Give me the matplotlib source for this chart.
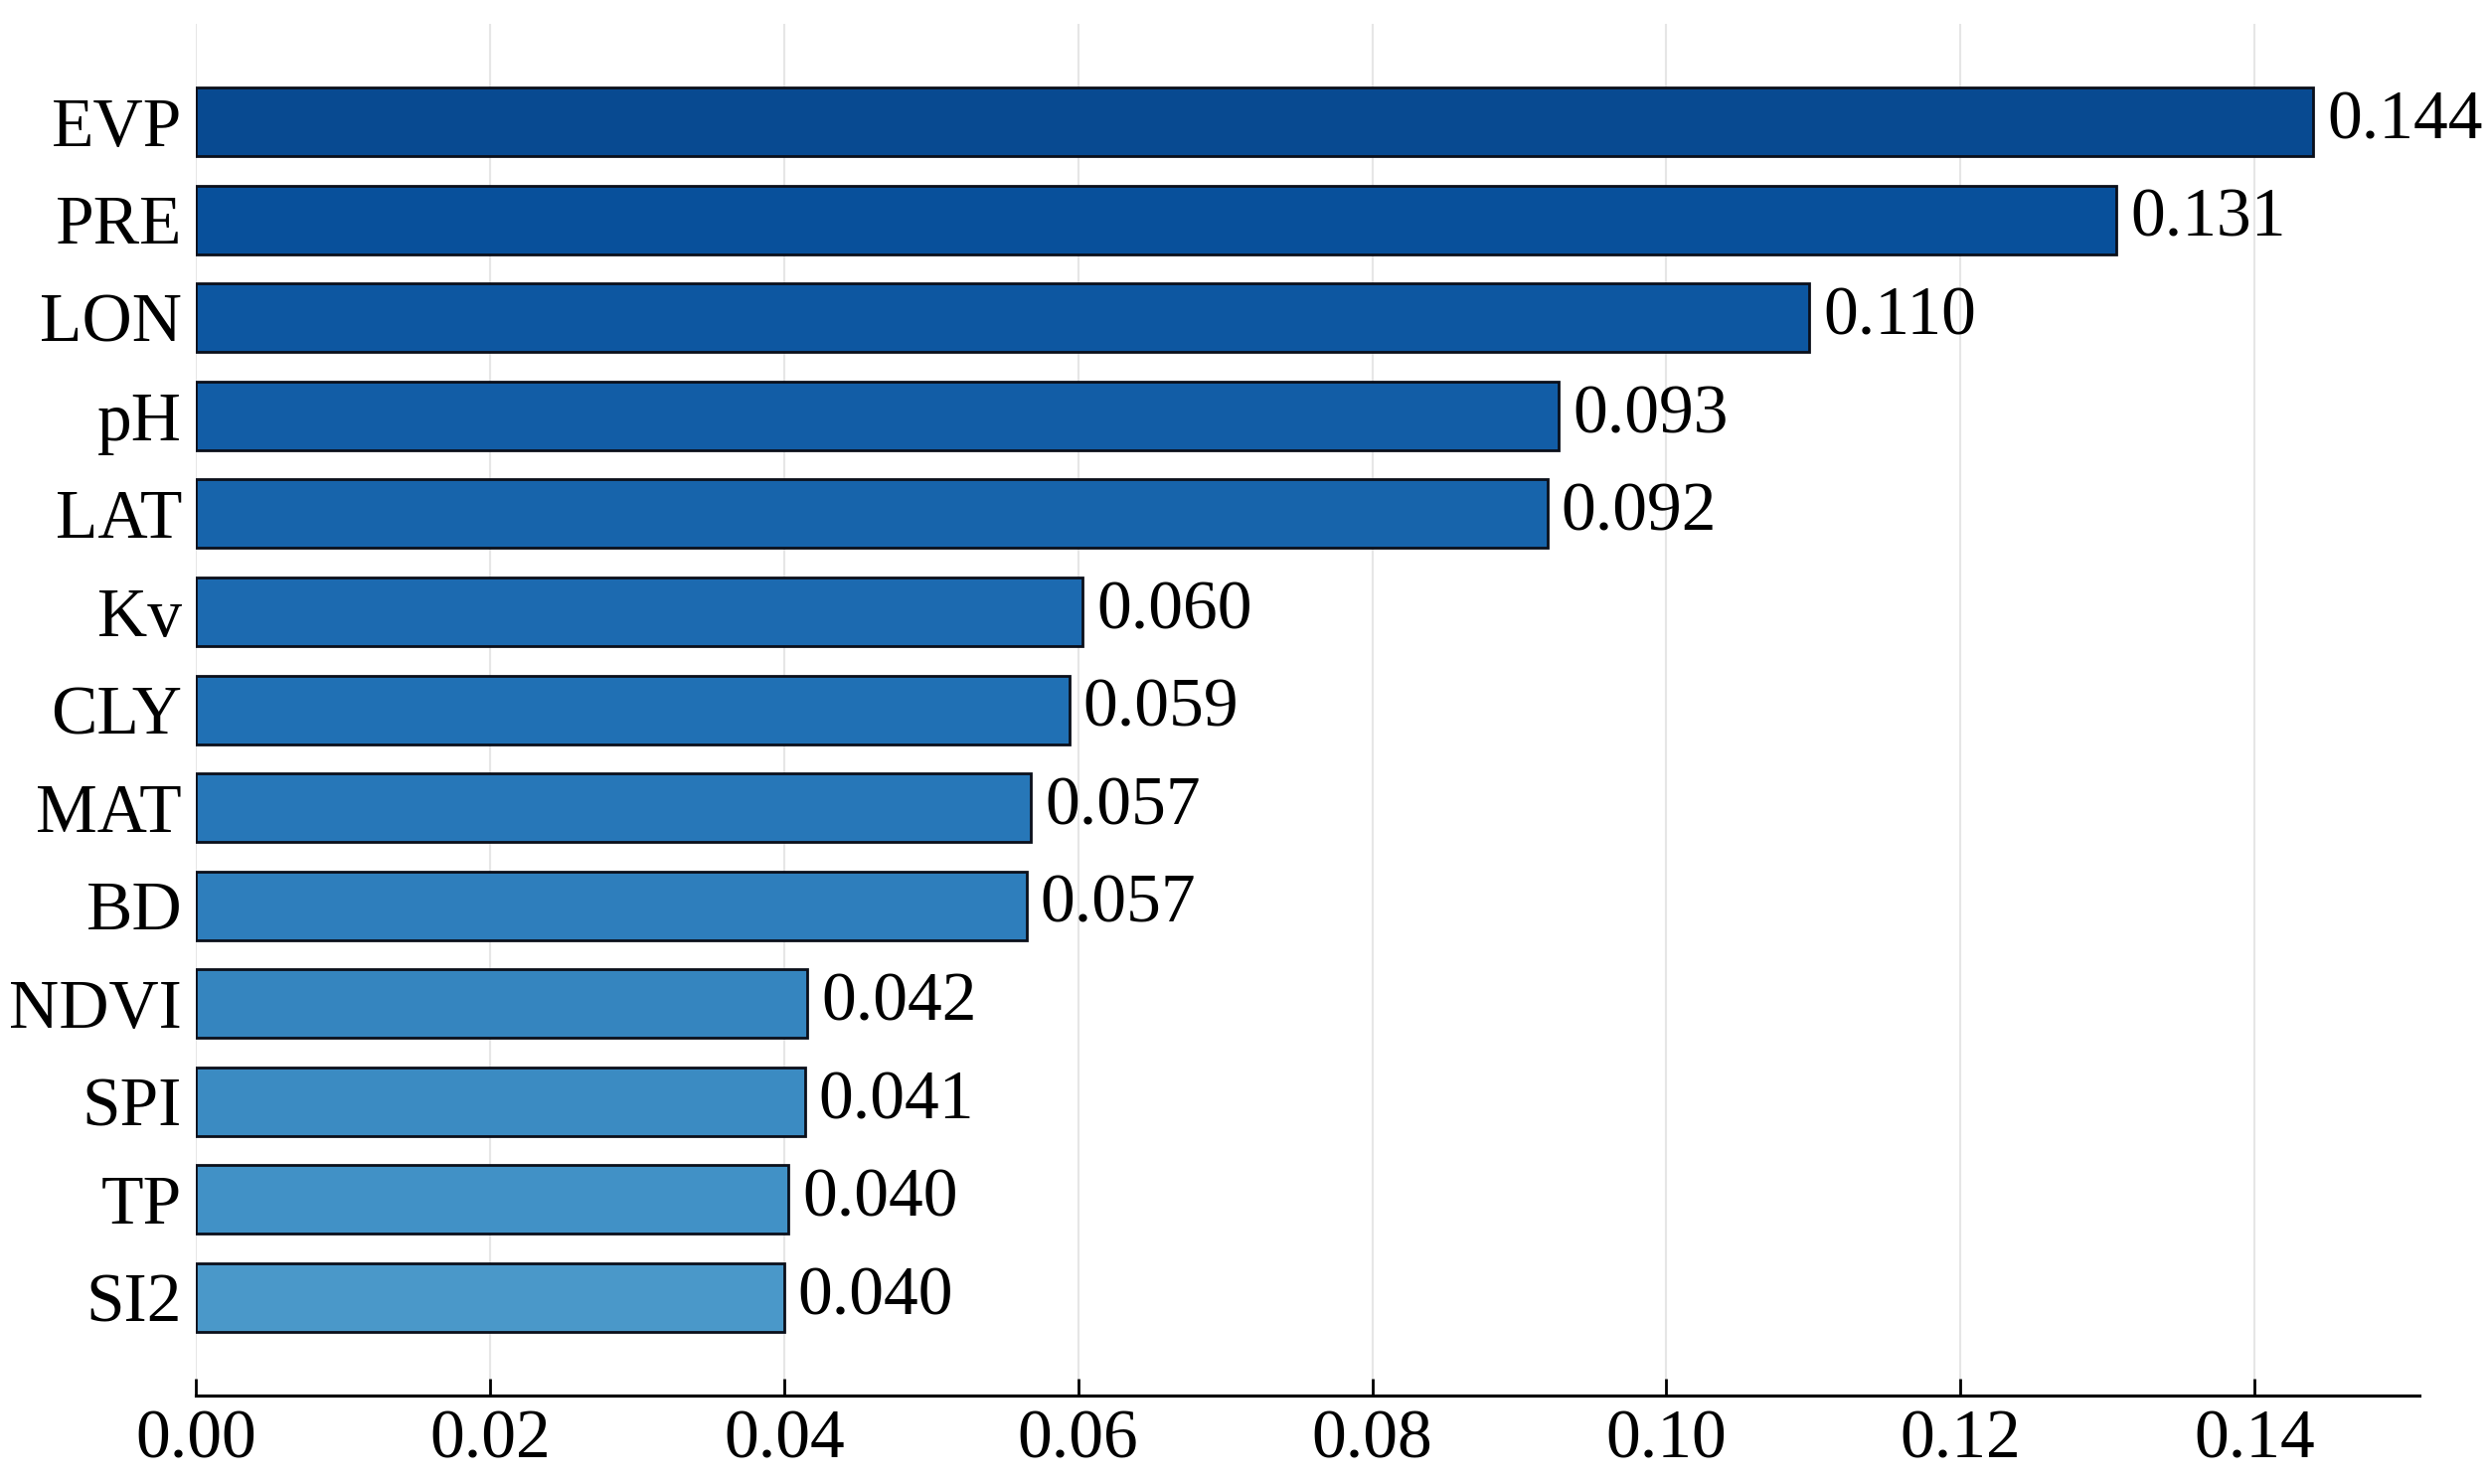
import matplotlib
matplotlib.use('Agg')
import matplotlib.pyplot as plt
import numpy as np

# 特征重要性数据
features = ['EVP', 'PRE', 'LON', 'pH', 'LAT', 'Kv', 'CLY', 'MAT', 'BD',
            'NDVI', 'SPI', 'TP', 'SI2']
importance = [0.1440, 0.1306, 0.1097, 0.0927, 0.0919, 0.0603, 0.0594, 0.0568,
              0.0565, 0.0416, 0.0414, 0.0403, 0.0400]
labels = ['0.144', '0.131', '0.110', '0.093', '0.092', '0.060', '0.059',
          '0.057', '0.057', '0.042', '0.041', '0.040', '0.040']

plt.rcParams['font.family'] = ['Liberation Serif', 'DejaVu Serif']

fig = plt.figure(figsize=(10, 5.972), dpi=250)
ax = fig.add_axes([197 / 2500, 1 - 1404 / 1493, (2434 - 197) / 2500, (1404 - 24) / 1493])

n = len(features)
pos = np.arange(n)
colors = plt.cm.Blues(np.linspace(0.9, 0.6, n))
ax.barh(pos, importance, height=0.7, color=colors, edgecolor='#0b0f1a',
        linewidth=0.8, zorder=2)

# 数值标签
for p, v, t in zip(pos, importance, labels):
    ax.annotate(t, (v, p), xytext=(4, 0), textcoords='offset points',
                va='center', ha='left', fontsize=20)

ax.set_yticks(pos)
ax.set_yticklabels(features, fontsize=20)
ax.set_ylim(n, -1)
ax.set_xlim(0, max(importance) * 1.05)
ax.set_xticks(np.arange(0, 0.15, 0.02))
ax.set_xticklabels(['%.2f' % x for x in np.arange(0, 0.15, 0.02)], fontsize=20)

ax.tick_params(axis='y', length=0, pad=4)
ax.tick_params(axis='x', direction='in', length=5, width=0.8, pad=4)
ax.grid(axis='x', color='#e6e6e6', linewidth=0.6, zorder=0)
for s in ['left', 'right', 'top']:
    ax.spines[s].set_visible(False)
ax.spines['bottom'].set_linewidth(0.9)

fig.savefig('out.png', dpi=250)
